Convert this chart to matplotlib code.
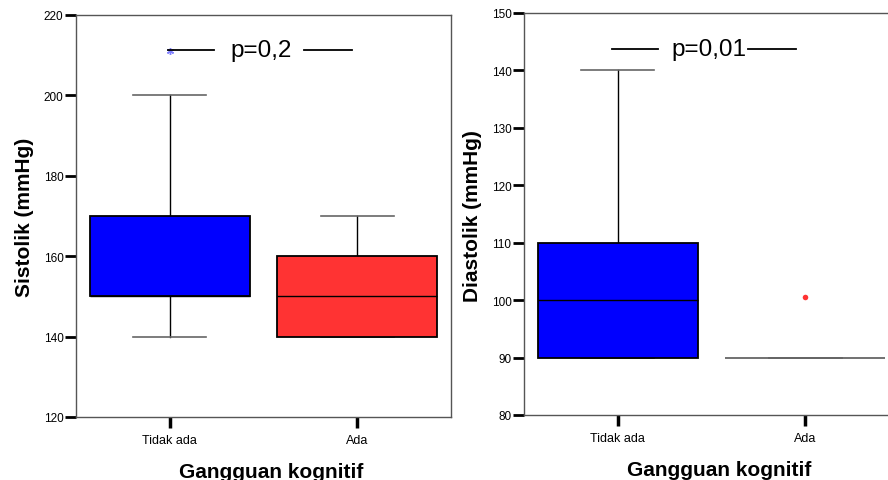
import matplotlib
matplotlib.use('Agg')
from matplotlib import pyplot as plt

plt.rcParams['font.family'] = ['Liberation Sans', 'DejaVu Sans']

# kategori
groups = ['Tidak ada', 'Ada']

# sistolik: whislo, q1, median, q3, whishi
sys_whislo = [140, 140]
sys_q1 = [150, 140]
sys_med = [150, 150]
sys_q3 = [170, 160]
sys_whishi = [200, 170]
sys_fliers = [[211], []]

# diastolik
dia_whislo = [90, 90]
dia_q1 = [90, 90]
dia_med = [100, 90]
dia_q3 = [110, 90]
dia_whishi = [140, 90]
dia_fliers = [[], [100.5]]

box_colors = ['#0000ff', '#ff3333']
flier_style = [dict(marker=(6, 2, 0), color='#7f7fff', ms=5, mew=1),
               dict(marker='o', color='#ff3333', ms=4, mew=0)]


def make_stats(whislo, q1, med, q3, whishi):
    stats = list()
    for i in range(len(groups)):
        stats.append({'whislo': whislo[i], 'q1': q1[i], 'med': med[i], 'q3': q3[i],
                      'whishi': whishi[i], 'fliers': []})
    return stats


def draw_panel(ax, stats, fliers, ylim, yticks, ylabel, ptext, py, pline1, pline2, ptx, show_box):
    bp = ax.bxp(stats, positions=[1, 2], widths=0.855, patch_artist=True, showfliers=False,
                capwidths=0.39,
                boxprops=dict(edgecolor='black', linewidth=1.3, zorder=2),
                medianprops=dict(color='black', linewidth=1, zorder=3),
                whiskerprops=dict(color='black', linewidth=1, zorder=1),
                capprops=dict(color='#666666', linewidth=1.2, zorder=1))
    for i, patch in enumerate(bp['boxes']):
        if show_box[i]:
            patch.set_facecolor(box_colors[i])
        else:
            # kotak dengan tinggi nol: hanya garis abu-abu
            patch.set_visible(False)
            bp['medians'][i].set_color('#666666')
            bp['medians'][i].set_linewidth(1.3)
    for i, fl in enumerate(fliers):
        if len(fl) > 0:
            ax.plot([i + 1] * len(fl), fl, linestyle='none', **flier_style[i])

    ax.set_xlim(0.5, 2.5)
    ax.set_ylim(*ylim)
    ax.set_yticks(yticks)
    ax.set_xticks([1, 2])
    ax.set_xticklabels(groups)
    ax.tick_params(axis='y', direction='out', length=8, width=2, labelsize=8.5, pad=1)
    ax.tick_params(axis='x', direction='out', length=8, width=2.5, labelsize=9, pad=4)
    for s in ax.spines.values():
        s.set_color('#555555')
        s.set_linewidth(1)

    ax.plot(pline1, [py, py], color='black', linewidth=1.3)
    ax.plot(pline2, [py, py], color='black', linewidth=1.3)
    ax.text(ptx, py, ptext, ha='center', va='center', fontsize=17.5)

    ax.set_ylabel(ylabel, fontsize=15, fontweight='bold')
    ax.set_xlabel('Gangguan kognitif', fontsize=15, fontweight='bold')


fig = plt.figure(figsize=(8.88, 4.81), dpi=100)
ax1 = fig.add_axes([76 / 888, 63 / 481, 375 / 888, 402 / 481])
ax2 = fig.add_axes([524 / 888, 65 / 481, 375 / 888, 402 / 481])

draw_panel(ax1, make_stats(sys_whislo, sys_q1, sys_med, sys_q3, sys_whishi),
           sys_fliers, (120, 220), [120, 140, 160, 180, 200, 220], 'Sistolik (mmHg)',
           'p=0,2', 211.2, [0.99, 1.235], [1.717, 1.973], 1.487, [True, True])
draw_panel(ax2, make_stats(dia_whislo, dia_q1, dia_med, dia_q3, dia_whishi),
           dia_fliers, (80, 150), [80, 90, 100, 110, 120, 130, 140, 150], 'Diastolik (mmHg)',
           'p=0,01', 143.8, [0.968, 1.214], [1.695, 1.952], 1.489, [True, False])

ax1.yaxis.set_label_coords(-0.113, 0.5)
ax1.xaxis.set_label_coords(0.52, -0.112)
ax2.yaxis.set_label_coords(-0.112, 0.497)
ax2.xaxis.set_label_coords(0.52, -0.112)

fig.savefig('out.png', dpi=100)
